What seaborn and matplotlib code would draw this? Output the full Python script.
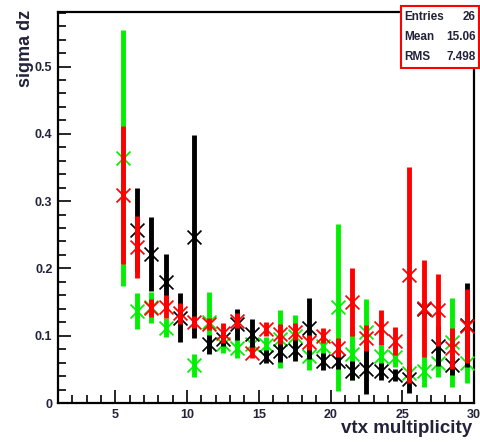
import numpy as np
import pandas as pd
import matplotlib
matplotlib.use("Agg")
import matplotlib.pyplot as plt
import seaborn as sns
from matplotlib.ticker import MultipleLocator
from matplotlib.patches import Rectangle

# ---- data ----
bins = [5.5, 6.5, 7.5, 8.5, 9.5, 10.5, 11.5, 12.5, 13.5, 14.5, 15.5, 16.5, 17.5,
        18.5, 19.5, 20.5, 21.5, 22.5, 23.5, 24.5, 25.5, 26.5, 27.5, 28.5, 29.5]
nan = np.nan
green_val = [0.364, 0.137, 0.142, 0.112, nan, 0.056, 0.120, 0.088, 0.082, 0.088, 0.086, 0.095, 0.100,
             0.070, 0.085, 0.142, 0.073, 0.105, 0.070, 0.068, 0.045, 0.047, 0.060, 0.090, 0.060]
green_err = [0.190, 0.027, 0.023, 0.014, nan, 0.017, 0.045, 0.014, 0.015, 0.010, 0.012, 0.043, 0.031,
             0.021, 0.015, 0.124, 0.039, 0.050, 0.016, 0.015, 0.010, 0.023, 0.022, 0.066, 0.030]
black_val = [nan, 0.257, 0.222, 0.180, 0.127, 0.247, 0.087, 0.095, 0.117, 0.103, 0.069, 0.077, 0.079,
             0.111, 0.062, 0.063, 0.048, 0.050, 0.047, 0.041, 0.035, 0.140, 0.085, 0.056, 0.116]
black_err = [nan, 0.062, 0.055, 0.041, 0.036, 0.151, 0.014, 0.010, 0.023, 0.022, 0.010, 0.016, 0.017,
             0.045, 0.013, 0.013, 0.014, 0.036, 0.013, 0.009, 0.020, 0.010, 0.030, 0.014, 0.062]
red_val = [0.309, 0.232, 0.141, 0.143, 0.133, 0.120, 0.117, 0.104, 0.122, 0.075, 0.110, 0.102, 0.106,
           0.090, 0.100, 0.082, 0.150, 0.097, 0.112, 0.092, 0.190, 0.141, 0.138, 0.081, 0.114]
red_err = [0.102, 0.046, 0.013, 0.017, 0.015, 0.009, 0.009, 0.015, 0.011, 0.008, 0.011, 0.015, 0.013,
           0.011, 0.011, 0.014, 0.050, 0.019, 0.026, 0.021, 0.161, 0.072, 0.053, 0.030, 0.055]

series_names = ["green", "black", "red"]
series_colors = ["#00f000", "#000000", "#ff0000"]
stats_labels = ["Entries", "Mean", "RMS"]
stats_values = ["26", "15.06", "7.498"]
xlabel = "vtx multiplicity"
ylabel = "sigma dz"

frames = []
for name, v, e in zip(series_names, [green_val, black_val, red_val], [green_err, black_err, red_err]):
    frames.append(pd.DataFrame({"x": bins, "y": v, "err": e, "series": name}))
df = pd.concat(frames, ignore_index=True)

sns.set_style("white")
plt.rcParams["font.family"] = ["Liberation Sans", "DejaVu Sans"]

fig = plt.figure(figsize=(4.81, 4.42), dpi=100)
ax = fig.add_axes([58 / 481, 39 / 442, (474 - 58) / 481, (403 - 12) / 442])

z = 2
for name, col in zip(series_names, series_colors):
    d = df[df["series"] == name].dropna()
    ax.vlines(d["x"], d["y"] - d["err"], d["y"] + d["err"], colors=col, linewidth=3.5, zorder=z)
    sns.scatterplot(data=d, x="x", y="y", ax=ax, marker="x", color=col, s=100,
                    linewidth=1.25, zorder=z + 1, legend=False)
    z += 2

ax.set_xlim(1, 30)
ax.set_ylim(0, 0.581)
ax.xaxis.set_major_locator(MultipleLocator(5))
ax.xaxis.set_minor_locator(MultipleLocator(1))
ax.yaxis.set_major_locator(MultipleLocator(0.1))
ax.yaxis.set_minor_locator(MultipleLocator(0.02))
ax.tick_params(which="major", direction="in", length=9.5, width=1.4, top=False, right=False,
               labelsize=9, labelcolor="#22223a", pad=4)
ax.tick_params(which="minor", direction="in", length=5.5, width=1.4, top=False, right=False)
ax.tick_params(axis="x", which="both", bottom=True)
ax.tick_params(axis="y", which="both", left=True)
ax.set_xticks([5, 10, 15, 20, 25, 30])
ax.set_xticklabels(["5", "10", "15", "20", "25", "30"], fontweight="bold")
ax.set_yticks([0, 0.1, 0.2, 0.3, 0.4, 0.5])
ax.set_yticklabels(["0", "0.1", "0.2", "0.3", "0.4", "0.5"], fontweight="bold")
for sp in ax.spines.values():
    sp.set_linewidth(1.6)
    sp.set_color("black")

ax.set_xlabel("")
ax.set_ylabel("")
fig.text(472 / 481, 1 - 433 / 442, xlabel, ha="right", va="baseline", fontsize=13.5,
         fontweight="bold", color="#22223a")
fig.text(25 / 481, 1 - 10 / 442, ylabel, ha="center", va="top", rotation=90, fontsize=13,
         fontweight="bold", color="#22223a")

# stats box
bx0, by0, bx1, by1 = 401.5, 6, 479, 68
fig.patches.append(Rectangle((bx0 / 481, 1 - by1 / 442), (bx1 - bx0) / 481, (by1 - by0) / 442,
                             transform=fig.transFigure, facecolor="white", edgecolor="#ff0000",
                             linewidth=1.5, zorder=10))
for i, (lab, val) in enumerate(zip(stats_labels, stats_values)):
    yy = 1 - (17 + i * 20) / 442
    fig.text(404 / 481, yy, lab, ha="left", va="center", fontsize=8.5, fontweight="bold",
             color="#22223a", zorder=11)
    fig.text(476 / 481, yy, val, ha="right", va="center", fontsize=8.5, fontweight="bold",
             color="#22223a", zorder=11)

fig.savefig("out.png", dpi=100)
